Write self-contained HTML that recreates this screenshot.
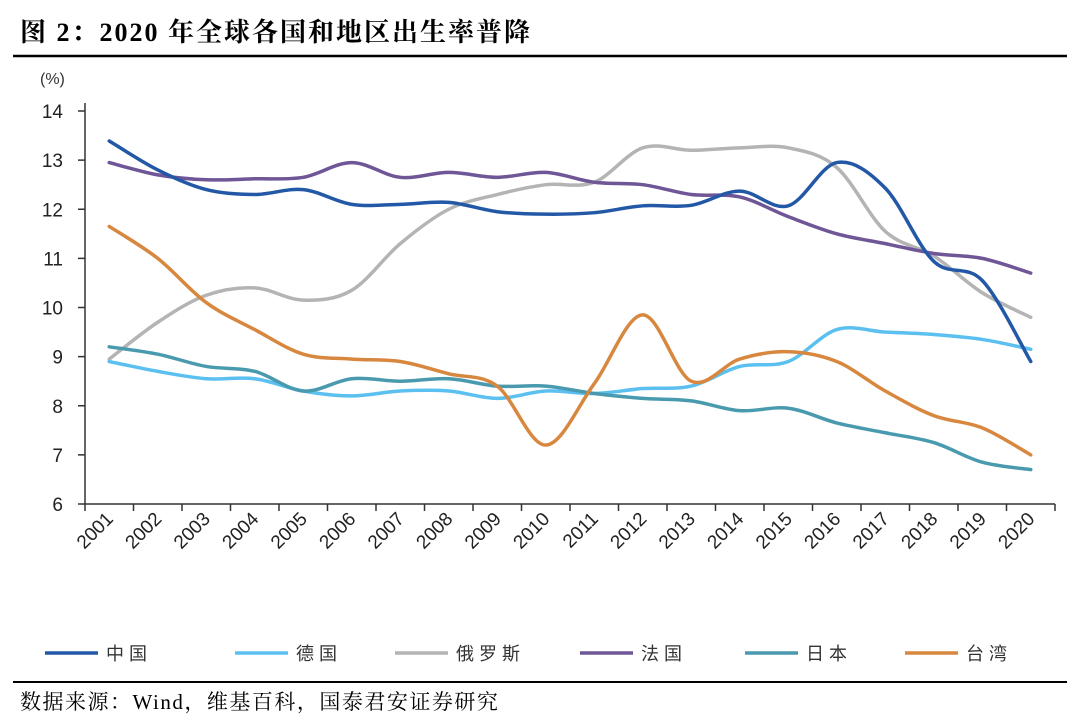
<!DOCTYPE html>
<html><head><meta charset="utf-8"><style>
body{margin:0;background:#fff;width:1080px;height:726px;overflow:hidden;font-family:"Liberation Serif","Noto Serif CJK SC",serif}
.t{position:absolute;left:20px;top:12px;font-size:26px;font-weight:bold;color:#000;letter-spacing:2px}
.s{position:absolute;left:20px;top:686px;font-size:21px;color:#000;letter-spacing:1.5px}
</style></head><body>
<div class="t">图&nbsp;2：2020 年全球各国和地区出生率普降</div>
<svg width="1080" height="726" style="position:absolute;left:0;top:0" id="c">
<line x1="13" y1="56" x2="1067" y2="56" stroke="#000" stroke-width="2.5"/>
<line x1="13" y1="682" x2="1067" y2="682" stroke="#000" stroke-width="2"/>
<text x="40" y="84" font-family="Liberation Sans,Noto Sans CJK SC,sans-serif" font-size="16" fill="#333">(%)</text>
</svg>
<div class="s">数据来源：Wind，维基百科，国泰君安证券研究</div>
<script>
const years=["2001","2002","2003","2004","2005","2006","2007","2008","2009","2010","2011","2012","2013","2014","2015","2016","2017","2018","2019","2020"];
const yTicks=[6,7,8,9,10,11,12,13,14];
const names=["中国","德国","俄罗斯","法国","日本","台湾"];
const colors=["#2358a6","#5bc0f0","#b4b4b4","#6f5696","#4a9aaf","#d8873f"];
const china=[13.39,12.8,12.4,12.3,12.4,12.1,12.1,12.14,11.95,11.9,11.93,12.07,12.08,12.37,12.07,12.95,12.43,10.94,10.55,8.9];
const germany=[8.9,8.7,8.55,8.55,8.3,8.2,8.3,8.3,8.15,8.3,8.25,8.35,8.4,8.8,8.9,9.55,9.5,9.45,9.35,9.15];
const russia=[8.95,9.7,10.25,10.4,10.15,10.35,11.3,12.0,12.3,12.5,12.55,13.25,13.2,13.25,13.25,12.85,11.55,11.05,10.3,9.8];
const france=[12.95,12.7,12.6,12.62,12.65,12.95,12.65,12.75,12.65,12.75,12.55,12.5,12.3,12.25,11.85,11.5,11.3,11.1,11.0,10.7];
const japan=[9.2,9.05,8.8,8.7,8.3,8.55,8.5,8.55,8.4,8.4,8.25,8.15,8.1,7.9,7.95,7.65,7.45,7.25,6.85,6.7];
const taiwan=[11.65,11.0,10.1,9.55,9.05,8.95,8.9,8.65,8.4,7.2,8.45,9.85,8.5,8.95,9.1,8.9,8.3,7.8,7.55,7.0];
const series=[china,germany,russia,france,japan,taiwan];
const svg=document.getElementById('c');const NS='http://www.w3.org/2000/svg';
const X0=85,X1=1055,Y0=504,Y1=111,VMIN=6,VMAX=14;
const bw=(X1-X0)/years.length;
const xs=i=>X0+bw*(i+0.5);
const ys=v=>Y0-(v-VMIN)/(VMAX-VMIN)*(Y0-Y1);
function mk(t,a){const e=document.createElementNS(NS,t);for(const k in a)e.setAttribute(k,a[k]);svg.appendChild(e);return e;}
let ax=mk('line',{x1:X0,y1:Y1-8,x2:X0,y2:Y0,stroke:'#333','stroke-width':1.5});


let bx=mk('line',{x1:X0,y1:Y0,x2:X1,y2:Y0,stroke:'#333','stroke-width':1.5});


yTicks.forEach(v=>{const y=ys(v);
mk('line',{x1:X0-7,y1:y,x2:X0,y2:y,stroke:'#333','stroke-width':1.5});
const t=mk('text',{x:63,y:y+7,'text-anchor':'end','font-family':'Liberation Sans,sans-serif','font-size':19,fill:'#222'});t.textContent=v;

});
for(let i=0;i<=years.length;i++){const x=X0+bw*i;mk('line',{x1:x,y1:Y0,x2:x,y2:Y0+7,stroke:'#333','stroke-width':1.5});}
years.forEach((yr,i)=>{const x=xs(i)+5,y=520;
const t=mk('text',{x:x,y:y,'text-anchor':'end','font-family':'Liberation Sans,sans-serif','font-size':19,fill:'#222',transform:`rotate(-45 ${x} ${y})`});t.textContent=yr;

});
function path(vals){const p=vals.map((v,i)=>[xs(i),ys(v)]);let d=`M${p[0][0]},${p[0][1]}`;
for(let i=0;i<p.length-1;i++){const a=p[Math.max(0,i-1)],b=p[i],c=p[i+1],e=p[Math.min(p.length-1,i+2)];
const c1=[b[0]+(c[0]-a[0])/6,b[1]+(c[1]-a[1])/6],c2=[c[0]-(e[0]-b[0])/6,c[1]-(e[1]-b[1])/6];
d+=` C${c1[0]},${c1[1]} ${c2[0]},${c2[1]} ${c[0]},${c[1]}`;}return d;}
const order=[2,1,4,5,3,0];
order.forEach(k=>{const l=mk('path',{d:path(series[k]),fill:'none',stroke:colors[k],'stroke-width':3.5,'stroke-linecap':'round'});

});
const lx=[20,210,370,555,720,880];
names.forEach((n,k)=>{const g=mk('g',{});


const a=document.createElementNS(NS,'line');a.setAttribute('x1',lx[k]+25);a.setAttribute('x2',lx[k]+78);a.setAttribute('y1',653);a.setAttribute('y2',653);a.setAttribute('stroke',colors[k]);a.setAttribute('stroke-width',3.5);g.appendChild(a);
const t=document.createElementNS(NS,'text');t.setAttribute('x',lx[k]+86);t.setAttribute('y',660);t.setAttribute('font-family','Noto Sans CJK SC,sans-serif');t.setAttribute('font-size',18);t.setAttribute('letter-spacing',5);t.setAttribute('fill','#333');t.textContent=n;g.appendChild(t);});
</script>
</body></html>
